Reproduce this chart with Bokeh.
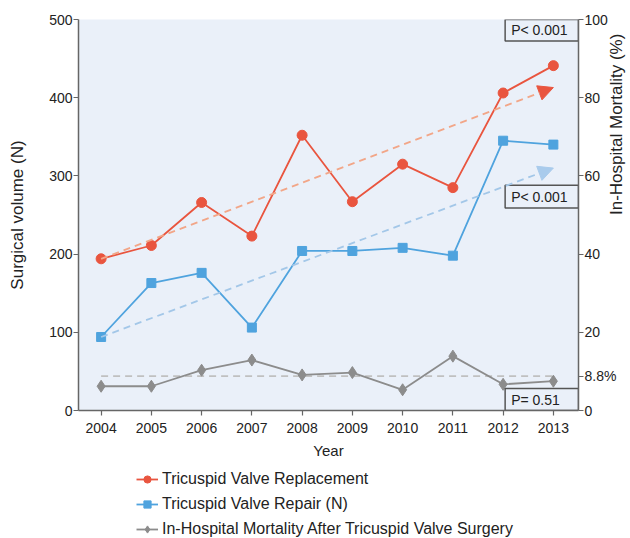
import math
from bokeh.plotting import figure
from bokeh.layouts import column
from bokeh.models import (Range1d, LinearAxis, FixedTicker, Legend, LegendItem,
                          Arrow, NormalHead, Label, ColumnDataSource)
from bokeh.embed import file_html
from bokeh.resources import INLINE

# ---------------- data ----------------
years = [2004, 2005, 2006, 2007, 2008, 2009, 2010, 2011, 2012, 2013]
replacement = [194, 211, 266, 223, 352, 267, 315, 285, 406, 441]
repair = [94, 163, 176, 106, 204, 204, 208, 198, 345, 340]
mortality = [6.2, 6.2, 10.3, 12.9, 9.1, 9.7, 5.3, 13.9, 6.7, 7.5]
mortality_mean = 8.8
replacement_trend = [194, 413]   # start (2004), end (2013)
repair_trend = [94, 310]
p_labels = ["P< 0.001", "P< 0.001", "P= 0.51"]
left_ticks = [0, 100, 200, 300, 400, 500]
right_ticks = [0, 20, 40, 60, 80, 100]
series_names = ["Tricuspid Valve Replacement", "Tricuspid Valve Repair (N)",
                "In-Hospital Mortality After Tricuspid Valve Surgery"]

FONT = "Liberation Sans"
RED = "#e9553f"
BLUE = "#4fa3de"
GRAY = "#8c8c8c"
BG = "#eaf0f9"
AX = "#666666"
TXT = "#222222"

p = figure(frame_width=500, frame_height=391, output_backend="svg", toolbar_location=None,
           x_range=Range1d(2003.55, 2013.5), y_range=Range1d(0, 500),
           min_border_left=78, min_border_right=0, min_border_top=19,
           min_border_bottom=50)
p.background_fill_color = BG
p.border_fill_color = "white"
p.outline_line_color = None
p.grid.visible = False
p.extra_y_ranges = {"mort": Range1d(0, 100)}

p.xaxis.ticker = FixedTicker(ticks=years)
p.xaxis.axis_label = "Year"
p.yaxis.ticker = FixedTicker(ticks=left_ticks)
p.yaxis.axis_label = "Surgical volume (N)"
right = LinearAxis(y_range_name="mort",
                   ticker=FixedTicker(ticks=right_ticks + [mortality_mean]),
                   axis_label="In-Hospital Mortality (%)")
right.major_label_overrides = {mortality_mean: "8.8%"}
p.add_layout(right, "right")
for ax in [p.xaxis[0], p.yaxis[0], right]:
    ax.axis_line_color = AX
    ax.axis_line_width = 1.5
    ax.major_tick_line_color = AX
    ax.major_tick_line_width = 1.2
    ax.major_tick_out = 5
    ax.major_tick_in = 0
    ax.minor_tick_line_color = None
    ax.major_label_text_font = FONT
    ax.major_label_text_font_size = "14px"
    ax.major_label_text_color = TXT
    ax.axis_label_text_font = FONT
    ax.axis_label_text_font_size = "17px"
    ax.axis_label_text_font_style = "normal"
    ax.axis_label_text_color = TXT
p.xaxis.axis_label_text_font_size = "15px"
p.xaxis.major_label_standoff = 7
p.xaxis.axis_label_standoff = 6
p.yaxis.major_label_standoff = 1
p.yaxis.axis_label_standoff = 19
right.major_label_standoff = 1
right.axis_label_standoff = -3
right.axis_label_orientation = math.pi / 2

# trend arrows
p.add_layout(Arrow(x_start=years[0], y_start=replacement_trend[0],
                   x_end=years[-1], y_end=replacement_trend[1],
                   line_color="#f2a688", line_width=1.8, line_dash="7 5",
                   end=NormalHead(size=15, fill_color=RED, line_color=RED)))
p.add_layout(Arrow(x_start=years[0], y_start=repair_trend[0],
                   x_end=years[-1], y_end=repair_trend[1],
                   line_color="#a3c7e8", line_width=1.8, line_dash="7 5",
                   end=NormalHead(size=15, fill_color="#a9cbec", line_color="#a9cbec")))

# mortality mean dashed line
p.line([years[0], years[-1]], [mortality_mean, mortality_mean], y_range_name="mort",
       line_color="#c0c0c0", line_width=1.8, line_dash="7 5")

# series
p.line(years, replacement, line_color=RED, line_width=1.8)
p.scatter(years, replacement, marker="circle", size=10, fill_color=RED, line_color=RED)
p.line(years, repair, line_color=BLUE, line_width=1.8)
p.scatter(years, repair, marker="square", size=9, fill_color=BLUE, line_color=BLUE)
p.line(years, mortality, y_range_name="mort", line_color=GRAY, line_width=1.8)
p.scatter(years, mortality, y_range_name="mort", marker="diamond", size=12,
          fill_color=GRAY, line_color=GRAY)

# P-value boxes
box_left = 2012.04
boxes = ColumnDataSource(dict(left=[box_left] * 3, right=[2013.5] * 3,
                              bottom=[472.5, 259, 0], top=[500, 288, 28]))
p.quad(left="left", right="right", bottom="bottom", top="top", source=boxes,
       fill_color=BG, line_color="#555555", line_width=1.5)
for lab, yc in zip(p_labels, [486, 273.5, 14]):
    p.add_layout(Label(x=box_left, y=yc, x_offset=6, text=lab, text_font=FONT,
                       text_font_size="14px", text_baseline="middle", text_color=TXT))

# legend in its own strip below the chart (proxy glyphs sit outside its view)
lg = figure(width=630, height=77, output_backend="svg", toolbar_location=None,
            x_axis_type=None, y_axis_type=None, min_border=0,
            x_range=Range1d(0, 1), y_range=Range1d(0, 1))
lg.outline_line_color = None
lg.grid.visible = False
lg.background_fill_color = "white"
lg.border_fill_color = "white"
styles = [(RED, "circle", 9), (BLUE, "square", 8), (GRAY, "diamond", 11)]
items = []
for name, (col, mk, sz) in zip(series_names, styles):
    rl = lg.line([-10, -9], [-10, -9], line_color=col, line_width=1.8)
    rs = lg.scatter([-10], [-10], marker=mk, size=sz, fill_color=col, line_color=col)
    items.append(LegendItem(label=name, renderers=[rl, rs]))
legend = Legend(items=items, location=(58, 0), orientation="vertical",
                border_line_color=None, background_fill_alpha=0,
                label_text_font=FONT, label_text_font_size="16px",
                label_text_color=TXT, glyph_width=22, glyph_height=18,
                label_height=18, spacing=7, padding=0, margin=0, label_standoff=4)
lg.add_layout(legend, "center")

open("out.html", "w").write(file_html(column(p, lg, spacing=0), INLINE))
